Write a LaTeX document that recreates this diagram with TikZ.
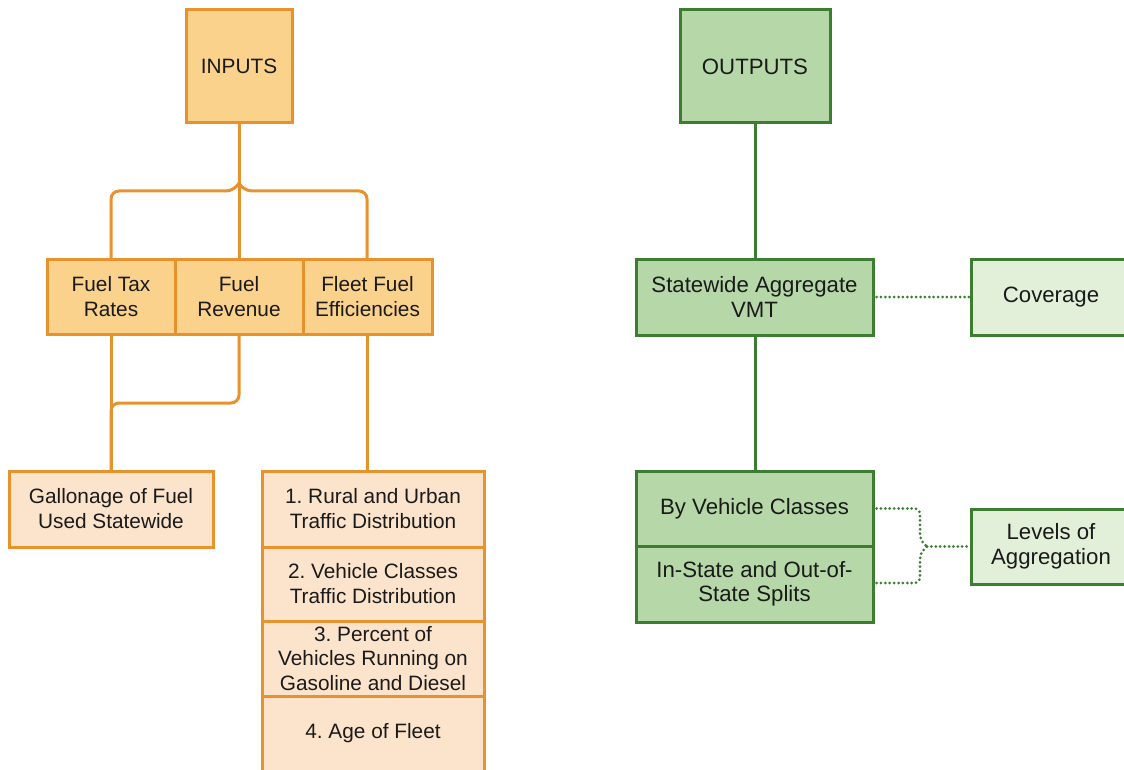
\documentclass[tikz,border=0pt]{standalone}
\usepackage{fontspec}
\setmainfont{Liberation Sans}
\definecolor{oline}{HTML}{E8922E}
\definecolor{ofill}{HTML}{FAD28C}
\definecolor{olight}{HTML}{FCE4CC}
\definecolor{gline}{HTML}{3C7D32}
\definecolor{gfill}{HTML}{B6D8A8}
\definecolor{glight}{HTML}{E2F0DA}
\definecolor{txt}{HTML}{1A1A1A}
\tikzset{
  base/.style={rectangle, inner sep=0pt, align=center, line width=3pt, text=txt,
    font=\fontsize{20.8}{25}\selectfont\frenchspacing},
  gfont/.style={font=\fontsize{22.2}{24.5}\selectfont\frenchspacing},
  obox/.style={base, draw=oline, fill=ofill},
  olbox/.style={base, draw=oline, fill=olight},
  gbox/.style={base, gfont, draw=gline, fill=gfill},
  glbox/.style={base, gfont, draw=gline, fill=glight},
  oconn/.style={draw=oline, line width=3pt, rounded corners=8pt},
  gconn/.style={draw=gline, line width=3pt},
  gdot/.style={draw=gline, line width=3pt, line cap=round, dash pattern=on 0pt off 4.4pt, rounded corners=6pt},
}
\begin{document}
\begin{tikzpicture}[x=1pt, y=-1pt]
\useasboundingbox (0,0) rectangle (1124,770);
\clip (0,0) rectangle (1124,770);
\fill[white] (0,0) rectangle (1124,770);

% orange connectors (drawn first, under boxes)
\coordinate (jn) at (239,183);
\draw[oconn] (111,259) -- (111,191) -- (234,191) -- (239,183);
\draw[oconn] (367,259) -- (367,191) -- (244,191) -- (239,183);
\draw[oconn] (239,123) -- (239,259);
\draw[oconn] (111,334) -- (111,471);
\draw[oconn] (239,334) -- (239,403) -- (111,403) -- (111,471);
\draw[oconn] (367,334) -- (367,471);

% inputs side
\node[obox, minimum width=106pt, minimum height=113pt] (in) at (239,66.5) {INPUTS};
\node[obox, minimum width=128pt, minimum height=75pt] (ftr) at (111,296.5) {Fuel Tax\\Rates};
\node[obox, minimum width=128pt, minimum height=75pt] (fr) at (239,296.5) {Fuel\\Revenue};
\node[obox, minimum width=129pt, minimum height=75pt] (ffe) at (367.5,296.5) {Fleet Fuel\\Efficiencies};
\node[olbox, minimum width=204pt, minimum height=76pt] (gal) at (111,509) {Gallonage of Fuel\\Used Statewide};
\node[olbox, minimum width=222pt, minimum height=76pt] (r1) at (373,509) {1. Rural and Urban\\Traffic Distribution};
\node[olbox, minimum width=222pt, minimum height=74pt] (r2) at (373,584) {2. Vehicle Classes\\Traffic Distribution};
\node[olbox, minimum width=222pt, minimum height=75pt, font=\fontsize{20.8}{24.5}\selectfont\frenchspacing] (r3) at (373,658.5) {3. Percent of\\Vehicles Running on\\Gasoline and Diesel};
\node[olbox, minimum width=222pt, minimum height=75pt] (r4) at (373,733.5) {4. Age of Fleet};

% outputs side
\draw[gconn] (755,123) -- (755,259);
\draw[gconn] (755,335) -- (755,471);
\node[gbox, minimum width=150pt, minimum height=113pt] (out) at (755,66.5) {OUTPUTS};
\node[gbox, minimum width=237pt, minimum height=76pt] (sw) at (754.5,297) {Statewide Aggregate\\VMT};
\node[glbox, minimum width=160pt, minimum height=76pt] (cov) at (1051,297) {Coverage};
\node[gbox, minimum width=237pt, minimum height=75pt] (vc) at (754.5,508.5) {By Vehicle Classes};
\node[gbox, minimum width=237pt, minimum height=76pt] (st) at (754.5,584) {In-State and Out-of-\\State Splits};
\node[glbox, minimum width=160pt, minimum height=75pt] (lev) at (1051,546.5) {Levels of\\Aggregation};

\draw[gdot] ([xshift=2pt]sw.east) -- (cov.west);
\coordinate (bj) at (927,546.5);
\draw[gdot] ([xshift=2pt]vc.east) -- (920,508.5) -- (920,540) -- (bj);
\draw[gdot] ([xshift=2pt]st.east |- 0,583) -- (920,583) -- (920,553) -- (bj);
\draw[gdot] (bj) -- (lev.west);
\end{tikzpicture}
\end{document}
